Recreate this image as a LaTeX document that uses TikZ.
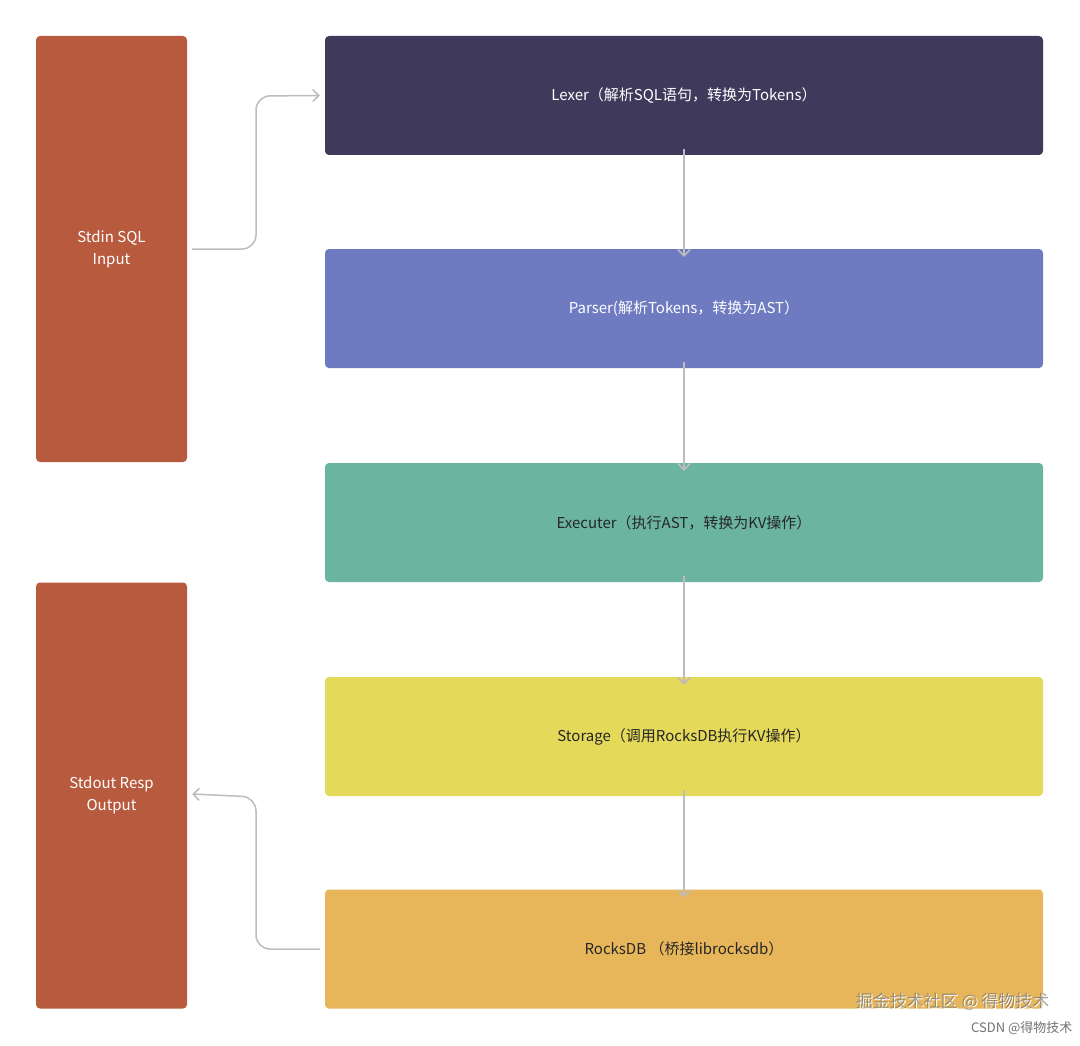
\documentclass[tikz,border=0pt]{standalone}
\usepackage{fontspec}
\setmainfont{Noto Sans CJK SC}
\usetikzlibrary{arrows.meta}
\definecolor{lbox}{HTML}{B85A3E}
\definecolor{c1}{HTML}{3F3A5C}
\definecolor{c2}{HTML}{6E7BC0}
\definecolor{c3}{HTML}{6BB5A0}
\definecolor{c4}{HTML}{E5D95A}
\definecolor{c5}{HTML}{E8B65A}
\definecolor{arr}{HTML}{BDBDBD}
\begin{document}
\begin{tikzpicture}[x=1pt,y=-1pt,
  bx/.style={rounded corners=4pt,minimum width=718pt,minimum height=119pt,inner sep=0pt,font=\fontsize{15}{18}\selectfont},
  lb/.style={fill=lbox,rounded corners=4pt,minimum width=151pt,minimum height=426pt,inner sep=0pt,text=white,align=center,font=\fontsize{15}{22}\selectfont},
  ar/.style={draw=arr,line width=1.5pt,-{Straight Barb[length=6pt,width=12pt]}}]
\useasboundingbox (0,0) rectangle (1080,1046);
\fill[white] (0,0) rectangle (1080,1046);
\node[lb] (in) at (111.5,249) {Stdin SQL\\Input};
\node[lb] (out) at (111.5,795.5) {Stdout Resp\\Output};
\node[bx,fill=c1,text=white] (lex) at (684,95.5) {Lexer（解析SQL语句，转换为Tokens）};
\node[bx,fill=c2,text=white] (par) at (684,308.5) {Parser(解析Tokens，转换为AST）};
\node[bx,fill=c3,text=black!85] (exe) at (684,522.5) {Executer（执行AST，转换为KV操作）};
\node[bx,fill=c4,text=black!85] (sto) at (684,736.5) {Storage（调用RocksDB执行KV操作）};
\node[bx,fill=c5,text=black!85] (rdb) at (684,949) {RocksDB （桥接librocksdb）};
\draw[ar] ([yshift=6pt]lex.south) -- ([yshift=-8pt]par.north);
\draw[ar] ([yshift=6pt]par.south) -- ([yshift=-8pt]exe.north);
\draw[ar] ([yshift=6pt]exe.south) -- ([yshift=-8pt]sto.north);
\draw[ar] ([yshift=6pt]sto.south) -- ([yshift=-8pt]rdb.north);
\draw[ar,rounded corners=14pt] ([xshift=5pt]in.east) -- (256,249) -- (256,96) -- ([xshift=-5pt]lex.west);
\draw[ar,rounded corners=14pt] ([xshift=-5pt]rdb.west) -- (256,949) -- (256,797) -- ([xshift=5pt,yshift=1.5pt]out.east);
\node[text=white,font=\fontsize{17}{20}\selectfont,anchor=east] (wm1) at (1054,1003) {掘金技术社区 @ 得物技术};
\node[text=black!55,font=\fontsize{13}{15}\selectfont,anchor=east] (wm2) at (1076,1028) {CSDN @得物技术};
\node[text=black!60,font=\fontsize{17}{20}\selectfont,anchor=east,opacity=0.6] at (1053,1002) {掘金技术社区 @ 得物技术};
\end{tikzpicture}
\end{document}
